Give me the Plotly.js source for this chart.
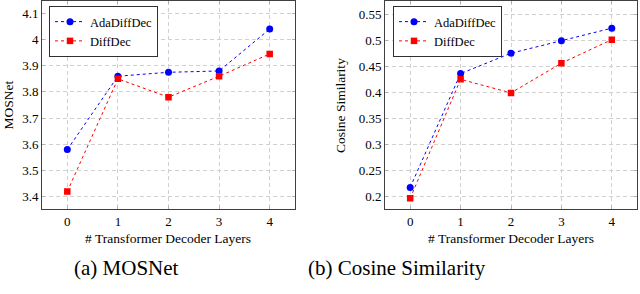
<!DOCTYPE html>
<html>
<head>
<meta charset="utf-8">
<script src="https://cdn.plot.ly/plotly-3.0.1.min.js"></script>
<style>html,body{margin:0;padding:0;background:#fff;}#chart{width:640px;height:294px;}</style>
</head>
<body>
<div id="chart"></div>
<script>
const layers = [0, 1, 2, 3, 4];
const mosAda = [3.58, 3.86, 3.875, 3.88, 4.04];
const mosDiff = [3.42, 3.85, 3.78, 3.86, 3.945];
const cosAda = [0.218, 0.436, 0.475, 0.499, 0.523];
const cosDiff = [0.197, 0.425, 0.399, 0.456, 0.501];
const seriesNames = ['AdaDiffDec', 'DiffDec'];
const mosTicks = [3.4, 3.5, 3.6, 3.7, 3.8, 3.9, 4, 4.1];
const mosTickText = ['3.4', '3.5', '3.6', '3.7', '3.8', '3.9', '4', '4.1'];
const cosTicks = [0.2, 0.25, 0.3, 0.35, 0.4, 0.45, 0.5, 0.55];
const cosTickText = ['0.2', '0.25', '0.3', '0.35', '0.4', '0.45', '0.5', '0.55'];
const xTitle = '# Transformer Decoder Layers';
const captions = ['(a) MOSNet', '(b) Cosine Similarity'];
const yTitles = ['MOSNet', 'Cosine Similarity'];

const FONT = '"Liberation Serif", "DejaVu Serif", serif';
const blue = '#0000ff', red = '#ff0000';

function tr(x, y, name, color, symbol, size, xa, ya, legend, show) {
  return {
    x: x, y: y, name: name, type: 'scatter', mode: 'lines+markers',
    xaxis: xa, yaxis: ya, legend: legend, showlegend: show,
    line: {color: color, width: 1, dash: '3px,3px'},
    marker: {color: color, symbol: symbol, size: size}
  };
}

const data = [
  tr(layers, mosAda, seriesNames[0], blue, 'circle', 7, 'x', 'y', 'legend', true),
  tr(layers, mosDiff, seriesNames[1], red, 'square', 6.5, 'x', 'y', 'legend', true),
  tr(layers, cosAda, seriesNames[0], blue, 'circle', 7, 'x2', 'y2', 'legend2', true),
  tr(layers, cosDiff, seriesNames[1], red, 'square', 6.5, 'x2', 'y2', 'legend2', true)
];

function xax(domain, anchor) {
  return {
    domain: domain, anchor: anchor, range: [-0.5, 4.5],
    tickvals: layers, ticktext: layers.map(String),
    showline: true, linecolor: '#404040', linewidth: 1, mirror: 'ticks',
    ticks: 'inside', ticklen: 3, tickcolor: '#b0b0b0', tickwidth: 1,
    showgrid: true, gridcolor: '#d0d0d0', gridwidth: 1, griddash: '4px,3px',
    zeroline: false, tickfont: {family: FONT, size: 13, color: '#000'}
  };
}
function yax(domain, anchor, range, tv, tt) {
  return {
    domain: domain, anchor: anchor, range: range,
    tickvals: tv, ticktext: tt,
    showline: true, linecolor: '#404040', linewidth: 1, mirror: 'ticks',
    ticks: 'inside', ticklen: 3, tickcolor: '#b0b0b0', tickwidth: 1,
    showgrid: true, gridcolor: '#d0d0d0', gridwidth: 1, griddash: '4px,3px',
    zeroline: false, tickfont: {family: FONT, size: 13, color: '#000'}
  };
}

const W = 640, H = 294;
const px = v => v / W, py = v => 1 - v / H;

function legendCfg(xpix) {
  return {
    x: px(xpix), y: py(6), xanchor: 'left', yanchor: 'top',
    bgcolor: '#fff', bordercolor: '#303030', borderwidth: 1,
    font: {family: FONT, size: 12.5, color: '#000'},
    tracegroupgap: 0, itemwidth: 30
  };
}

const layout = {
  width: W, height: H,
  margin: {l: 0, r: 0, t: 0, b: 0},
  paper_bgcolor: '#fff', plot_bgcolor: '#fff',
  font: {family: FONT, color: '#000'},
  xaxis: xax([px(42), px(295)], 'y'),
  yaxis: yax([py(209.3), py(0.5)], 'x', [3.352, 4.149], mosTicks, mosTickText),
  xaxis2: xax([px(385), px(637)], 'y2'),
  yaxis2: yax([py(209.3), py(0.5)], 'x2', [0.176, 0.576], cosTicks, cosTickText),
  legend: legendCfg(49),
  legend2: legendCfg(393),
  annotations: [
    {text: xTitle, x: px(168), y: py(238), xref: 'paper', yref: 'paper', showarrow: false, xanchor: 'center', yanchor: 'middle', font: {family: FONT, size: 13.5}},
    {text: xTitle, x: px(511), y: py(238), xref: 'paper', yref: 'paper', showarrow: false, xanchor: 'center', yanchor: 'middle', font: {family: FONT, size: 13.5}},
    {text: yTitles[0], x: px(7.5), y: py(105), xref: 'paper', yref: 'paper', showarrow: false, textangle: -90, xanchor: 'center', yanchor: 'middle', font: {family: FONT, size: 13.5}},
    {text: yTitles[1], x: px(341), y: py(106), xref: 'paper', yref: 'paper', showarrow: false, textangle: -90, xanchor: 'center', yanchor: 'middle', font: {family: FONT, size: 13.5}},
    {text: captions[0], x: px(126), y: py(268), xref: 'paper', yref: 'paper', showarrow: false, xanchor: 'center', yanchor: 'middle', font: {family: FONT, size: 21}},
    {text: captions[1], x: px(397), y: py(268), xref: 'paper', yref: 'paper', showarrow: false, xanchor: 'center', yanchor: 'middle', font: {family: FONT, size: 21}}
  ]
};

Plotly.newPlot('chart', data, layout, {staticPlot: true, displayModeBar: false});
</script>
</body>
</html>
